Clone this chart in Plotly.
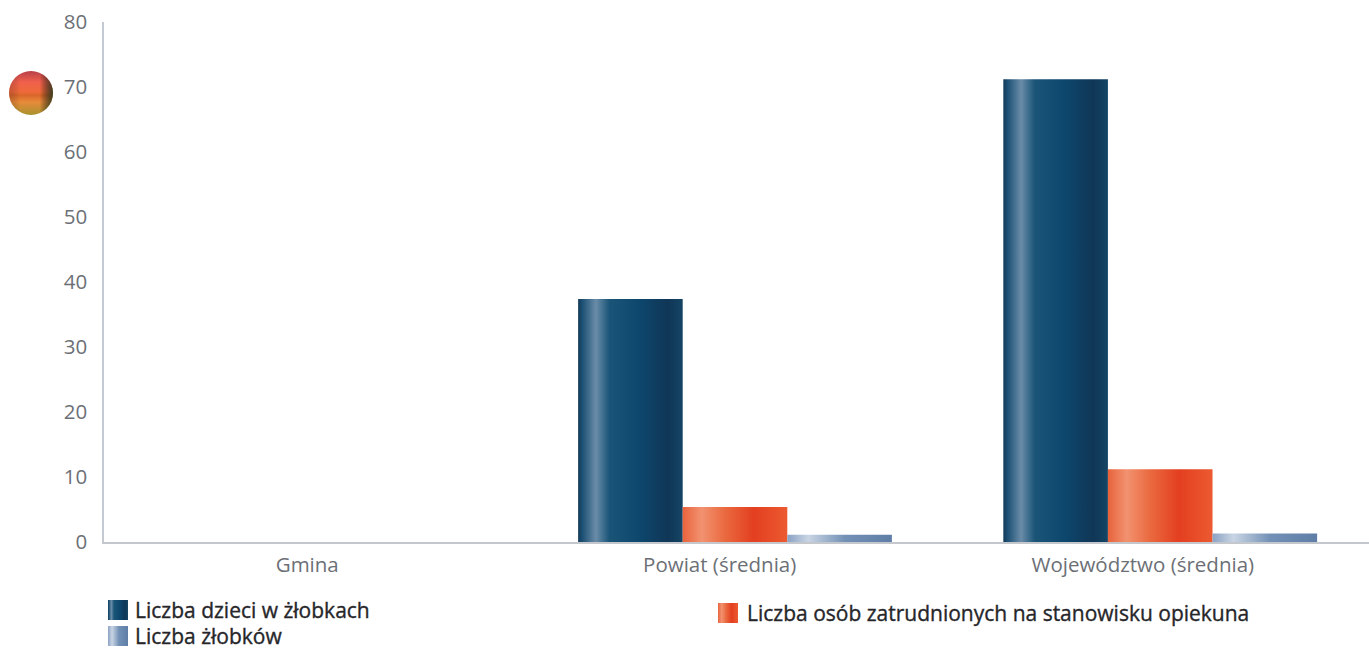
import plotly.graph_objects as go

categories = ["Gmina", "Powiat (średnia)", "Województwo (średnia)"]
x_index = [0, 1, 2]
label_positions = [-0.006, 0.964, 1.959]
dzieci = [0, 37.4, 71.2]
opiekunowie = [0, 5.4, 11.2]
zlobki = [0, 1.1, 1.3]
y_ticks = [0, 10, 20, 30, 40, 50, 60, 70, 80]
names = ["Liczba dzieci w żłobkach", "Liczba osób zatrudnionych na stanowisku opiekuna", "Liczba żłobków"]
colors = ["#14496d", "#e8552d", "#7f98bb"]

W, H = 1369, 648
L, R, T, B = 104, 0, 22, 106

fig = go.Figure()
for name, vals, c in zip(names, [dzieci, opiekunowie, zlobki], colors):
    fig.add_bar(x=x_index, y=vals, name=name, marker=dict(color=c, line=dict(width=0)))

for fill in ["#e8603a", "rgba(0,0,0,0)"]:
    fig.add_shape(type="circle", xref="paper", yref="paper",
                  x0=(9 - L) / (W - L - R), x1=(53 - L) / (W - L - R),
                  y0=(H - B - 115) / (H - T - B), y1=(H - B - 71) / (H - T - B),
                  fillcolor=fill, line=dict(width=0), layer="above")

fig.update_layout(
    width=W, height=H, barmode="group", bargap=0.262, bargroupgap=0,
    margin=dict(l=L, r=R, t=T, b=B, autoexpand=False),
    paper_bgcolor="white", plot_bgcolor="white",
    font=dict(family="Open Sans", size=20.5, color="#6c7076"),
    showlegend=True,
    legend=dict(orientation="h", x=0.0, xanchor="left", xref="paper",
                y=-0.05, yanchor="top", entrywidth=570, entrywidthmode="pixels",
                traceorder="normal", tracegroupgap=0,
                font=dict(family="Open Sans", size=21, color="#26262a"),
                bgcolor="rgba(0,0,0,0)", itemclick=False),
    xaxis=dict(range=[-0.484, 2.491], tickmode="array", tickvals=label_positions, ticktext=categories,
               showgrid=False, zeroline=False, showline=True, linecolor="#c4c7cc", linewidth=1.5,
               ticks="outside", ticklen=4, tickcolor="rgba(0,0,0,0)"),
    yaxis=dict(range=[0, 80], tickvals=y_ticks, showgrid=False, zeroline=False, showline=True,
               linecolor="#c4c9d2", linewidth=1.5,
               ticks="outside", ticklen=11, tickcolor="rgba(0,0,0,0)"),
)

post = """
document.body.style.margin = '0';
var gd = document.getElementById('{plot_id}');
var stops = [
 [[0,'#143a58'],[0.04,'#1c5074'],[0.17,'#6a8ca8'],[0.3,'#1a5578'],[0.6,'#0d466c'],[0.86,'#103656'],[1,'#154565']],
 [[0,'#e8633c'],[0.18,'#f29270'],[0.4,'#ea6a40'],[0.68,'#e33f20'],[1,'#ec5a30']],
 [[0,'#8aa2c4'],[0.2,'#c9d5e4'],[0.55,'#7391b6'],[1,'#5f7ea6']]
];
var legendPos = [[108, 610], [718, 613], [108, 636]];
function style() {
  var svg = gd.querySelector('.main-svg');
  var ns = 'http://www.w3.org/2000/svg';
  var defs = svg.querySelector('defs');
  function grad(id, arr, vertical) {
    if (document.getElementById(id)) return;
    var g = document.createElementNS(ns, 'linearGradient');
    g.setAttribute('id', id);
    g.setAttribute('x1', '0'); g.setAttribute('y1', '0');
    g.setAttribute('x2', vertical ? '0' : '1'); g.setAttribute('y2', vertical ? '1' : '0');
    arr.forEach(function (s) {
      var st = document.createElementNS(ns, 'stop');
      st.setAttribute('offset', s[0]); st.setAttribute('stop-color', s[1]);
      if (s[2] !== undefined) st.setAttribute('stop-opacity', s[2]);
      g.appendChild(st);
    });
    defs.appendChild(g);
  }
  stops.forEach(function (s, i) { grad('barGrad' + i, s, false); });
  grad('ballGrad', [[0,'#b8404a'],[0.25,'#f0604c'],[0.48,'#ee6a3a'],[0.55,'#d9662a'],[0.7,'#e88a3a'],[1,'#a8922c']], true);
  grad('ballEdge', [[0,'#502020',0.25],[0.25,'#000000',0],[0.7,'#000000',0],[1,'#1f3a20',0.85]], false);
  gd.querySelectorAll('.barlayer .trace').forEach(function (t, i) {
    t.querySelectorAll('path').forEach(function (p) { p.style.fill = 'url(#barGrad' + i + ')'; });
  });
  var lg = gd.querySelector('.legend');
  var lt = lg.getAttribute('transform').match(/translate\\(([-\\d.]+),\\s*([-\\d.]+)\\)/);
  var ox = parseFloat(lt[1]), oy = parseFloat(lt[2]);
  gd.querySelectorAll('.legend .traces').forEach(function (t, i) {
    var p = t.querySelector('.legendbar path, .legendpoints path');
    if (p) { p.setAttribute('d', 'M10,10H-10V-10H10Z'); p.style.fill = 'url(#barGrad' + i + ')'; }
    var pos = legendPos[i];
    // the swatch is centred at x = 20 inside a legend entry
    t.setAttribute('transform', 'translate(' + (pos[0] + 10 - 20 - ox) + ',' + (pos[1] - oy) + ')');
    var tx = t.querySelector('text');
    if (tx) {
      tx.setAttribute('x', i === 1 ? '39' : '37');
      tx.style.stroke = '#26262a'; tx.style.strokeWidth = '0.35px';
    }
  });
  var bs = gd.querySelectorAll('.shapelayer path');
  if (bs[0]) bs[0].style.fill = 'url(#ballGrad)';
  if (bs[1]) { bs[1].style.fill = 'url(#ballEdge)'; bs[1].style.fillOpacity = 1; }
  var clip = lg.querySelector('.scrollbox');
  if (clip) clip.removeAttribute('clip-path');
}
style();
gd.on('plotly_afterplot', style);
"""

fig.write_html("out.html", post_script=post, config={"displayModeBar": False})
